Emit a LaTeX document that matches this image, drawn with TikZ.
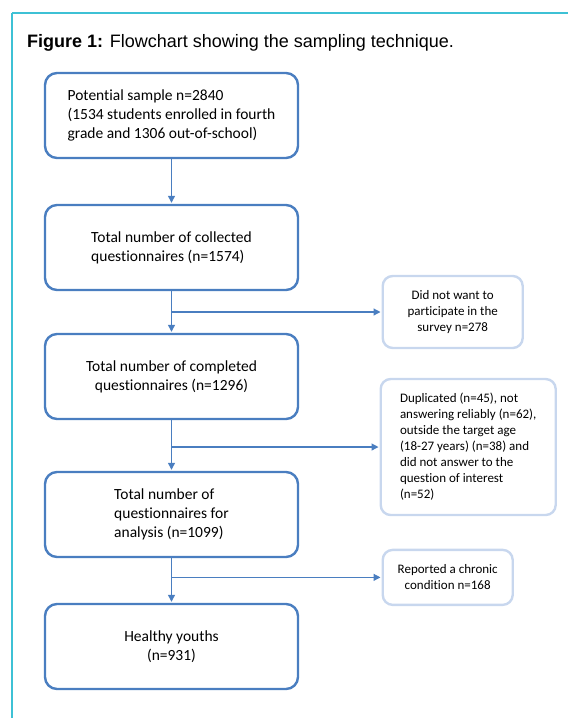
\documentclass[tikz,border=0pt]{standalone}
\usepackage{fontspec}
\setmainfont{Carlito}[Ligatures=NoCommon]
\newfontfamily\titlefont{Liberation Sans}
\usepackage{tikz}
\usetikzlibrary{arrows.meta,positioning,calc}
\usepackage{xcolor}
\definecolor{boxblue}{HTML}{4A7EC0}
\definecolor{sideblue}{HTML}{C8D7EE}
\definecolor{framecyan}{HTML}{3EC1D5}

\begin{document}
\begin{tikzpicture}[
    x=1pt, y=-1pt,
    node distance=44.6pt and 210pt,
    box/.style={draw=boxblue, line width=2.4pt, rounded corners=12pt, minimum width=253pt, minimum height=85pt, font=\fontsize{15.5}{19}\selectfont},
    side/.style={draw=sideblue, line width=2.4pt, rounded corners=10pt, font=\fontsize{13}{16}\selectfont},
    arrow/.style={-{Triangle[length=7pt, width=7pt]}, draw=boxblue, line width=1.2pt, shorten >=1pt},
    frame/.style={draw=framecyan, line width=1.5pt}
]
\useasboundingbox (0,0) rectangle (568,718);
\draw[frame] (12,13) -- (568,13);
\draw[frame] (12,13) -- (12,718);
\node[anchor=base west, inner sep=0pt, font=\titlefont\fontsize{18}{22}\selectfont] (title) at (27,47) {\textbf{Figure 1:} Flowchart showing the sampling technique.};

\node[box, align=left] (potential) at (171.5,115.5) {Potential sample n=2840\\(1534 students enrolled in fourth\\grade and 1306 out-of-school)};
\node[box, align=left, below=of potential] (collected) {Total number of collected\\questionnaires (n=1574)};
\node[box, align=center, below=41.6pt of collected] (completed) {Total number of completed\\questionnaires (n=1296)};
\node[box, align=left, below=50.6pt of completed] (analysis) {Total number of\\questionnaires for\\analysis (n=1099)};
\node[box, align=center, below=of analysis] (healthy) {Healthy youths\\(n=931)};

\coordinate (j1) at ($(collected.south)!0.5!(completed.north)$);
\coordinate (j2) at ($(completed.south)!0.53!(analysis.north)$);
\coordinate (j3) at ($(analysis.south)!0.43!(healthy.north)$);

\node[side, align=center, minimum width=140pt, minimum height=72pt, right=of j1] (refused) {Did not want to\\participate in the\\survey n=278};
\node[side, align=left, minimum width=175pt, minimum height=136pt, right=208pt of j2] (excluded) {Duplicated (n=45), not\\answering reliably (n=62),\\outside the target age\\(18-27 years) (n=38) and\\did not answer to the\\question of interest\\(n=52)};
\node[side, align=center, minimum width=130pt, minimum height=55pt, right=of j3] (chronic) {Reported a chronic\\condition n=168};

\draw[arrow] (potential) -- (collected);
\draw[arrow] (collected) -- (completed);
\draw[arrow] (completed) -- (analysis);
\draw[arrow] (analysis) -- (healthy);
\draw[arrow] (j1) -- (refused);
\draw[arrow] (j2) -- (excluded);
\draw[arrow] (j3) -- (chronic);
\end{tikzpicture}
\end{document}
